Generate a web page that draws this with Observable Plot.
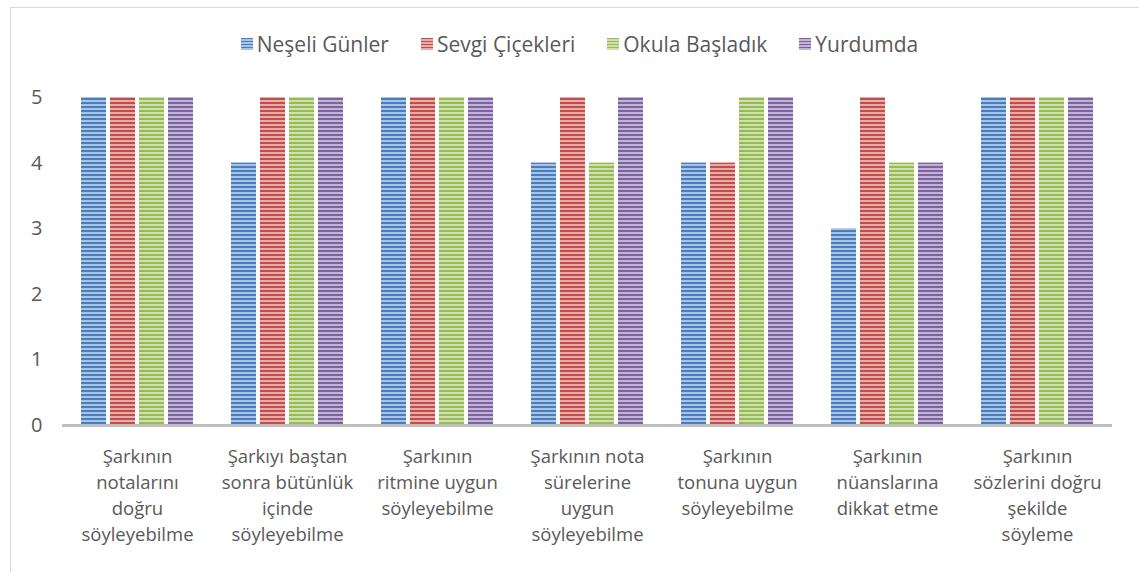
<!DOCTYPE html>
<html>
<head>
<meta charset="utf-8">
<script src="https://cdn.jsdelivr.net/npm/d3@7"></script>
<script src="https://cdn.jsdelivr.net/npm/@observablehq/plot@0.6"></script>
<style>
  html, body { margin: 0; padding: 0; background: #fff; }
  body { width: 1139px; height: 572px; position: relative; overflow: hidden; font-family: "Open Sans", sans-serif; }
  #frame { position: absolute; left: 10px; top: 7px; width: 1200px; height: 600px; border-left: 1px solid #d9d9d9; border-top: 1px solid #d9d9d9; }
  #legend { position: relative; height: 70px; display: flex; justify-content: center; align-items: center; gap: 32px; font-size: 21px; color: #595959; padding-top: 18px; padding-left: 20px; box-sizing: border-box; }
  .item { display: flex; align-items: center; gap: 4px; }
  .sw { width: 12px; height: 12px; display: inline-block; }
  #chart { position: relative; }
</style>
</head>
<body>
<div id="frame"></div>
<div id="legend"></div>
<div id="chart"></div>
<script>
const categories = [
  "Şarkının\nnotalarını\ndoğru\nsöyleyebilme",
  "Şarkıyı baştan\nsonra bütünlük\niçinde\nsöyleyebilme",
  "Şarkının\nritmine uygun\nsöyleyebilme",
  "Şarkının nota\nsürelerine\nuygun\nsöyleyebilme",
  "Şarkının\ntonuna uygun\nsöyleyebilme",
  "Şarkının\nnüanslarına\ndikkat etme",
  "Şarkının\nsözlerini doğru\nşekilde\nsöyleme"
];
const seriesNames = ["Neşeli Günler", "Sevgi Çiçekleri", "Okula Başladık", "Yurdumda"];
const neseliGunler   = [5, 4, 5, 4, 4, 3, 5];
const sevgiCicekleri = [5, 5, 5, 5, 4, 5, 5];
const okulaBasladik  = [5, 5, 5, 4, 5, 4, 5];
const yurdumda       = [5, 5, 5, 5, 5, 4, 5];
const seriesColors = ["#4a7dbd", "#c24e4b", "#98ba55", "#7d62a0"];
const seriesLight  = ["#a9c3e4", "#e6acaa", "#cfe0b0", "#c0b3d4"];

const seriesValues = [neseliGunler, sevgiCicekleri, okulaBasladik, yurdumda];
const rows = [];
categories.forEach((c, i) => {
  seriesNames.forEach((s, j) => rows.push({cat: c, series: s, value: seriesValues[j][i]}));
});
const patternIds = seriesNames.map((s, j) => `stripe${j}`);

// legend
const legend = document.getElementById("legend");
seriesNames.forEach((s, j) => {
  const it = document.createElement("div");
  it.className = "item";
  const sw = document.createElement("span");
  sw.className = "sw";
  sw.style.background = `repeating-linear-gradient(to bottom, ${seriesColors[j]} 0px, ${seriesColors[j]} 1.5px, ${seriesLight[j]} 1.5px, ${seriesLight[j]} 3px)`;
  const t = document.createElement("span");
  t.textContent = s;
  it.appendChild(sw); it.appendChild(t);
  legend.appendChild(it);
});

const chart = Plot.plot({
  width: 1139,
  height: 502,
  marginLeft: 60,
  marginRight: 26,
  marginTop: 27,
  marginBottom: 147,
  style: {fontFamily: "Open Sans, sans-serif", fontSize: "20px", color: "#595959", background: "transparent", overflow: "visible"},
  facet: {data: rows, x: "cat"},
  fx: {domain: categories, padding: 0, axis: null, label: null},
  x: {domain: seriesNames, paddingInner: 0.138, paddingOuter: 0.62, axis: null, label: null},
  y: {domain: [0, 5], ticks: 5, tickSize: 0, tickPadding: 20, label: null, tickFormat: d => String(d)},
  color: {type: "ordinal", domain: seriesNames, range: patternIds.map(id => `url(#${id})`)},
  marks: [
    Plot.barY(rows, {x: "series", y: "value", fill: "series"}),
    Plot.ruleY([0], {stroke: "#bfbfbf", strokeWidth: 3}),
    Plot.text(rows, {
      filter: d => d.series === seriesNames[0],
      text: d => d.cat,
      frameAnchor: "bottom",
      lineAnchor: "top",
      dy: 19,
      lineHeight: 1.4,
      fill: "#595959",
      fontSize: 18.5
    })
  ]
});

// add stripe patterns
const svg = chart.tagName.toLowerCase() === "svg" ? chart : chart.querySelector("svg");
const ns = "http://www.w3.org/2000/svg";
const defs = document.createElementNS(ns, "defs");
seriesNames.forEach((s, j) => {
  const p = document.createElementNS(ns, "pattern");
  p.setAttribute("id", patternIds[j]);
  p.setAttribute("patternUnits", "userSpaceOnUse");
  p.setAttribute("width", "8");
  p.setAttribute("height", "4");
  const r1 = document.createElementNS(ns, "rect");
  r1.setAttribute("width", "8"); r1.setAttribute("height", "4"); r1.setAttribute("fill", seriesLight[j]);
  const r2 = document.createElementNS(ns, "rect");
  r2.setAttribute("width", "8"); r2.setAttribute("height", "2"); r2.setAttribute("fill", seriesColors[j]);
  p.appendChild(r1); p.appendChild(r2);
  defs.appendChild(p);
});
svg.insertBefore(defs, svg.firstChild);
document.getElementById("chart").appendChild(chart);
</script>
</body>
</html>
